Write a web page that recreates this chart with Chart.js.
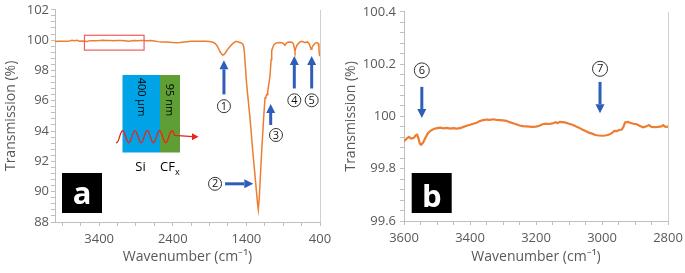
<!DOCTYPE html>
<html>
<head>
<meta charset="utf-8">
<script src="https://cdn.jsdelivr.net/npm/chart.js@4.4.1/dist/chart.umd.min.js"></script>
<style>
  body { margin: 0; background: #fff; }
  #wrap { position: relative; width: 685px; height: 273px; }
  #panelA { position: absolute; left: 0; top: 0; }
  #panelB { position: absolute; left: 340px; top: 0; }
</style>
</head>
<body>
<div id="wrap">
  <canvas id="panelA" width="340" height="273"></canvas>
  <canvas id="panelB" width="345" height="273"></canvas>
</div>
<script>
// ---- Panel a: full FTIR spectrum (wavenumber cm-1 / transmission %)
const aWave = [4000, 3960, 3920, 3880, 3840, 3800, 3770, 3740, 3700, 3670, 3630, 3600, 3560, 3540, 3500, 3450, 3400, 3350, 3300, 3250,
  3200, 3150, 3100, 3050, 3000, 2950, 2920, 2880, 2840, 2800, 2750, 2700, 2650, 2600, 2550, 2500, 2450, 2400, 2350, 2300,
  2250, 2200, 2150, 2100, 2050, 2000, 1950, 1900, 1855, 1830, 1803, 1780, 1758, 1740, 1722, 1705, 1690, 1670, 1646, 1620,
  1600, 1568, 1541, 1525, 1510, 1477, 1450, 1438, 1428, 1396, 1351, 1314, 1273, 1250, 1238, 1225, 1192, 1165, 1147, 1135,
  1124, 1118, 1110, 1080, 1064, 1056, 1040, 1025, 1000, 980, 950, 920, 900, 876, 855, 831, 810, 785, 763, 750,
  740, 730, 715, 695, 670, 649, 625, 604, 590, 572, 545, 530, 522, 510, 491, 470, 454, 440, 423, 415, 408, 400];
const aTrans = [99.90, 99.93, 99.92, 99.93, 99.92, 99.94, 99.99, 99.96, 99.99, 99.93, 99.94, 99.93, 99.91, 99.95, 99.96, 99.96, 99.97, 99.99, 99.98, 99.97,
  99.96, 99.97, 99.98, 99.96, 99.93, 99.96, 99.98, 99.96, 99.97, 99.97, 99.96, 99.97, 99.94, 99.90, 99.88, 99.87, 99.86, 99.84, 99.83, 99.85,
  99.88, 99.90, 99.92, 99.92, 99.93, 99.92, 99.93, 99.91, 99.86, 99.80, 99.66, 99.45, 99.23, 99.10, 99.01, 99.05, 99.12, 99.28, 99.44, 99.60,
  99.70, 99.83, 99.92, 99.90, 99.88, 99.83, 99.75, 99.60, 99.23, 97.05, 94.87, 92.70, 90.53, 89.30, 88.83, 89.60, 92.70, 94.90, 96.18, 96.28,
  96.42, 96.40, 96.62, 97.60, 98.70, 99.30, 99.55, 99.70, 99.80, 99.83, 99.85, 99.83, 99.78, 99.66, 99.80, 99.88, 99.86, 99.88, 99.77, 99.50,
  99.27, 99.45, 99.65, 99.77, 99.88, 99.92, 99.88, 99.83, 99.86, 99.88, 99.75, 99.52, 99.40, 99.50, 99.66, 99.78, 99.83, 99.82, 99.77, 99.50, 99.01, 98.95];
const aXLabels = [400, 1400, 2400, 3400];
const aYLabels = [88, 90, 92, 94, 96, 98, 100, 102];

// ---- Panel b: zoom of 3600-2800 cm-1
const bWave = [3600, 3592, 3585, 3578, 3570, 3564, 3560, 3556, 3552, 3548, 3542, 3535, 3528, 3520, 3510, 3500, 3490, 3480, 3470, 3460,
  3450, 3440, 3430, 3420, 3410, 3400, 3390, 3380, 3370, 3360, 3350, 3340, 3330, 3320, 3310, 3300, 3290, 3280, 3270, 3260,
  3250, 3240, 3230, 3220, 3210, 3200, 3190, 3180, 3170, 3160, 3150, 3140, 3135, 3128, 3120, 3110, 3100, 3090, 3080, 3070,
  3060, 3050, 3040, 3030, 3020, 3010, 3000, 2990, 2980, 2970, 2962, 2955, 2948, 2940, 2935, 2930, 2922, 2915, 2905, 2895,
  2885, 2875, 2865, 2858, 2850, 2840, 2830, 2820, 2815, 2808, 2800];
const bTrans = [99.905, 99.915, 99.922, 99.915, 99.918, 99.928, 99.930, 99.915, 99.896, 99.892, 99.900, 99.918, 99.935, 99.945, 99.952, 99.955, 99.957, 99.954, 99.956, 99.953,
  99.955, 99.953, 99.955, 99.960, 99.964, 99.968, 99.972, 99.976, 99.982, 99.986, 99.988, 99.987, 99.989, 99.987, 99.986, 99.985, 99.983, 99.978, 99.974, 99.970,
  99.965, 99.963, 99.962, 99.961, 99.960, 99.961, 99.964, 99.970, 99.972, 99.971, 99.973, 99.978, 99.974, 99.979, 99.978, 99.976, 99.972, 99.968, 99.962, 99.957,
  99.950, 99.944, 99.938, 99.934, 99.929, 99.927, 99.926, 99.927, 99.930, 99.936, 99.945, 99.944, 99.948, 99.950, 99.960, 99.977, 99.979, 99.976, 99.972, 99.970,
  99.963, 99.958, 99.962, 99.967, 99.960, 99.959, 99.960, 99.962, 99.967, 99.960, 99.961];
const bXLabels = [2800, 3000, 3200, 3400, 3600];
const bYLabels = [99.6, 99.8, 100, 100.2, 100.4];

// peak markers: number, arrow tail -> head (data units), circled number position
const aPeaks = [
  { n: '1', x1: 1705, y1: 96.42, x2: 1705, y2: 98.67, cx: 1705, cy: 95.64 },
  { n: '2', x1: 1690, y1: 90.52, x2: 1306, y2: 90.52, cx: 1826, cy: 90.52 },
  { n: '3', x1: 1070, y1: 94.40, x2: 1070, y2: 95.79, cx: 998, cy: 93.74 },
  { n: '4', x1: 749, y1: 96.81, x2: 749, y2: 98.96, cx: 749, cy: 96.03 },
  { n: '5', x1: 513, y1: 96.81, x2: 513, y2: 98.96, cx: 513, cy: 96.03 }
];
const bPeaks = [
  { n: '6', x1: 3546, y1: 100.113, x2: 3546, y2: 99.994, cx: 3546, cy: 100.176 },
  { n: '7', x1: 3006, y1: 100.132, x2: 3006, y2: 100.012, cx: 3006, cy: 100.182 }
];
// zoomed region marked on panel a
const zoomBox = { x1: 3600, x2: 2790, y1: 100.32, y2: 99.34 };

const orange = '#ED7D31';
const blue = '#2E5EB8';
const axisGray = '#BFBFBF';
const textGray = '#595959';

Chart.defaults.font.family = "'Open Sans', sans-serif";
Chart.defaults.font.size = 13;
Chart.defaults.color = textGray;

function makeTicks(min, max, step) {
  const out = [];
  const n = Math.round((max - min) / step);
  for (let i = 0; i <= n; i++) out.push({ value: +(min + i * step).toFixed(4) });
  return out;
}
function inList(v, list) {
  return list.some(l => Math.abs(l - v) < 1e-6);
}
function toXY(xs, ys) {
  return xs.map((x, i) => ({ x: x, y: ys[i] }));
}

function drawArrow(ctx, x1, y1, x2, y2, color, w, headLen, headW) {
  const ang = Math.atan2(y2 - y1, x2 - x1);
  const bx = x2 - headLen * Math.cos(ang), by = y2 - headLen * Math.sin(ang);
  ctx.strokeStyle = color;
  ctx.lineWidth = w;
  ctx.beginPath(); ctx.moveTo(x1, y1); ctx.lineTo(bx, by); ctx.stroke();
  ctx.fillStyle = color;
  ctx.beginPath();
  ctx.moveTo(x2, y2);
  ctx.lineTo(bx + headW * Math.sin(ang), by - headW * Math.cos(ang));
  ctx.lineTo(bx - headW * Math.sin(ang), by + headW * Math.cos(ang));
  ctx.closePath(); ctx.fill();
}
function drawCircled(ctx, x, y, r, txt) {
  ctx.strokeStyle = '#333';
  ctx.lineWidth = 1;
  ctx.beginPath(); ctx.arc(x, y, r, 0, Math.PI * 2); ctx.stroke();
  ctx.fillStyle = '#111';
  ctx.font = "11px 'Open Sans'";
  ctx.textAlign = 'center'; ctx.textBaseline = 'middle';
  ctx.fillText(txt, x, y + 0.5);
}
function drawPeaks(chart, peaks, r) {
  const ctx = chart.ctx, xs = chart.scales.x, ys = chart.scales.y;
  peaks.forEach(p => {
    drawArrow(ctx, xs.getPixelForValue(p.x1), ys.getPixelForValue(p.y1),
      xs.getPixelForValue(p.x2), ys.getPixelForValue(p.y2), blue, 3, 9, 4.5);
    drawCircled(ctx, xs.getPixelForValue(p.cx), ys.getPixelForValue(p.cy), r, p.n);
  });
}
function drawRightBorder(chart) {
  const ctx = chart.ctx, a = chart.chartArea;
  const x = Math.round(a.right) + 0.5;
  ctx.strokeStyle = '#D0D0D0';
  ctx.lineWidth = 1;
  ctx.beginPath(); ctx.moveTo(x, a.top); ctx.lineTo(x, a.bottom); ctx.stroke();
}
function drawTag(ctx, x, y, letter, base) {
  ctx.fillStyle = '#000';
  ctx.fillRect(x, y, 40, 40);
  ctx.fillStyle = '#fff';
  ctx.font = "bold 31px 'Open Sans'";
  ctx.textAlign = 'center'; ctx.textBaseline = 'alphabetic';
  ctx.fillText(letter, x + 20, base);
}

// annotations of panel a
const annotA = {
  id: 'annotA',
  afterDraw(chart) {
    const ctx = chart.ctx, xs = chart.scales.x, ys = chart.scales.y;
    ctx.save();
    drawRightBorder(chart);

    // red box = region of panel b
    ctx.strokeStyle = '#F25C5C';
    ctx.lineWidth = 1.2;
    const rx1 = xs.getPixelForValue(zoomBox.x1), rx2 = xs.getPixelForValue(zoomBox.x2);
    const ry1 = ys.getPixelForValue(zoomBox.y1), ry2 = ys.getPixelForValue(zoomBox.y2);
    ctx.strokeRect(rx1, ry1, rx2 - rx1, ry2 - ry1);

    drawPeaks(chart, aPeaks, 6.5);

    // inset sketch: Si wafer + CFx film
    ctx.fillStyle = '#00A3E6';
    ctx.fillRect(122.5, 75, 37.5, 77.5);
    ctx.fillStyle = '#5E9E34';
    ctx.fillRect(160, 75, 20, 77.5);
    ctx.fillStyle = '#000';
    ctx.font = "11px 'Open Sans'";
    ctx.textAlign = 'center'; ctx.textBaseline = 'middle';
    ctx.save(); ctx.translate(141.5, 97); ctx.rotate(Math.PI / 2); ctx.fillText('400 μm', 0, 0); ctx.restore();
    ctx.save(); ctx.translate(169.5, 100); ctx.rotate(Math.PI / 2); ctx.fillText('95 nm', 0, 0); ctx.restore();

    // IR beam
    ctx.strokeStyle = '#E8251E';
    ctx.lineWidth = 1.3;
    ctx.beginPath();
    for (let x = 116; x <= 174.95; x += 0.5) {
      const y = 136.7 - 6 * Math.sin(2 * Math.PI * (x - 119.6) / 12.3);
      if (x === 116) ctx.moveTo(x, y); else ctx.lineTo(x, y);
    }
    ctx.lineTo(193, 136.7);
    ctx.stroke();
    ctx.fillStyle = '#E8251E';
    ctx.beginPath(); ctx.moveTo(198.5, 136.7); ctx.lineTo(192, 133.2); ctx.lineTo(192, 140.2); ctx.closePath(); ctx.fill();

    ctx.fillStyle = '#000';
    ctx.font = "13px 'Open Sans'";
    ctx.textAlign = 'center'; ctx.textBaseline = 'middle';
    ctx.fillText('Si', 140.5, 167);
    ctx.textAlign = 'left';
    ctx.fillText('CF', 160, 167);
    const w = ctx.measureText('CF').width;
    ctx.font = "9px 'Open Sans'";
    ctx.fillText('x', 160 + w, 172);

    drawTag(ctx, 62, 173, 'a', 204);
    ctx.restore();
  }
};

// annotations of panel b
const annotB = {
  id: 'annotB',
  afterDraw(chart) {
    const ctx = chart.ctx;
    ctx.save();
    drawRightBorder(chart);
    drawPeaks(chart, bPeaks, 7.5);
    drawTag(ctx, 71.7, 173, 'b', 206.5);
    ctx.restore();
  }
};

function axisX(min, max, step, labels, height) {
  return {
    type: 'linear', reverse: true, min: min, max: max,
    afterBuildTicks: s => { s.ticks = makeTicks(min, max - ((max - min) % step > 0 ? (max - min) % step : 0), step); },
    afterFit: s => { s.height = height; },
    grid: { drawOnChartArea: false, drawTicks: true, tickLength: 4, color: axisGray },
    border: { color: axisGray },
    ticks: { autoSkip: false, maxRotation: 0, padding: 5, callback: v => inList(v, labels) ? String(v) : '' },
    title: { display: true, text: 'Wavenumber (cm⁻¹)', font: { size: 14 }, color: textGray, padding: { top: 0, bottom: 8 } }
  };
}
function axisY(min, max, step, labels, width, pad) {
  return {
    type: 'linear', min: min, max: max,
    afterBuildTicks: s => { s.ticks = makeTicks(min, max, step); },
    afterFit: s => { s.width = width; },
    grid: { drawOnChartArea: false, drawTicks: true, tickLength: 4, color: axisGray },
    border: { color: axisGray },
    ticks: { autoSkip: false, padding: pad, callback: v => inList(v, labels) ? String(Math.round(v * 10) / 10) : '' },
    title: { display: true, text: 'Transmission (%)', font: { size: 14 }, color: textGray, padding: { top: 3, bottom: 0 } }
  };
}

// panel a
new Chart(document.getElementById('panelA'), {
  type: 'line',
  data: {
    datasets: [{
      data: toXY(aWave, aTrans),
      borderColor: orange, borderWidth: 1.5, pointRadius: 0, tension: 0, fill: false
    }]
  },
  options: {
    responsive: false, animation: false, devicePixelRatio: 1,
    layout: { padding: { top: 7.5, right: 20, left: 0, bottom: 0 } },
    plugins: { legend: { display: false }, tooltip: { enabled: false } },
    scales: {
      x: axisX(400, 4000, 250, aXLabels, 51),
      y: axisY(88, 102, 0.4, aYLabels, 55, 2)
    }
  },
  plugins: [annotA]
});

// panel b
new Chart(document.getElementById('panelB'), {
  type: 'line',
  data: {
    datasets: [{
      data: toXY(bWave, bTrans),
      borderColor: orange, borderWidth: 2.2, pointRadius: 0, tension: 0, fill: false
    }]
  },
  options: {
    responsive: false, animation: false, devicePixelRatio: 1,
    layout: { padding: { top: 9, right: 17, left: 0, bottom: 0 } },
    plugins: { legend: { display: false }, tooltip: { enabled: false } },
    scales: {
      x: axisX(2800, 3600, 50, bXLabels, 52),
      y: axisY(99.6, 100.4, 0.04, bYLabels, 64, 4)
    }
  },
  plugins: [annotB]
});
</script>
</body>
</html>
